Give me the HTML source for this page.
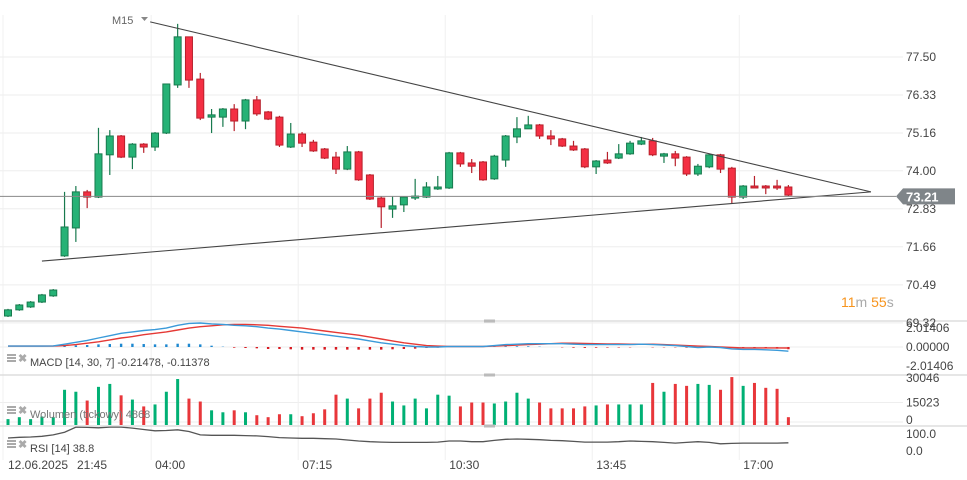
<!DOCTYPE html>
<html><head><meta charset="utf-8"><style>
html,body{margin:0;padding:0;background:#fff;}
svg{display:block;font-family:"Liberation Sans",sans-serif;}
</style></head><body>
<svg id="chart" width="967" height="480" viewBox="0 0 967 480" xmlns="http://www.w3.org/2000/svg">
<g id="grid"></g>
<g id="main"></g>
<g id="macd"></g>
<g id="vol"></g>
<g id="rsi"></g>
<g id="axes"></g>
</svg>
<script>
const opens=[69.53,69.72,69.81,69.96,70.15,71.38,72.24,73.35,73.19,74.49,75.07,74.42,74.82,74.73,75.16,76.64,78.12,76.82,75.65,75.65,75.90,75.53,76.18,75.81,75.65,74.73,75.13,74.88,74.67,74.42,74.05,74.58,73.87,73.16,72.82,72.95,73.16,73.19,73.44,73.47,74.55,74.24,74.27,73.75,74.33,75.04,75.29,75.41,75.07,74.98,74.76,74.67,74.12,74.33,74.39,74.52,74.82,74.92,74.45,74.52,74.42,73.90,74.12,74.49,74.08,73.19,73.53,73.53,73.53,73.50];
const highs=[69.75,69.90,69.99,70.21,70.36,73.35,73.53,73.41,75.32,75.25,75.10,74.85,74.85,75.19,76.67,78.52,78.12,77.01,75.90,75.93,76.05,76.21,76.30,75.84,75.69,75.47,75.19,74.95,74.70,74.58,74.76,74.61,73.90,73.22,73.22,73.22,73.75,73.65,73.84,74.58,74.58,74.36,74.30,74.49,75.10,75.65,75.69,75.44,75.25,75.01,74.92,74.70,74.33,74.58,74.82,74.92,75.04,75.01,74.55,74.61,74.45,74.21,74.52,74.52,74.12,73.56,73.84,73.56,73.72,73.56];
const lows=[69.50,69.69,69.78,69.93,70.12,71.35,71.81,72.85,73.16,73.87,74.39,74.05,74.55,74.61,75.13,76.55,76.55,75.56,75.16,75.35,75.22,75.28,75.69,75.56,74.73,74.70,74.73,74.58,74.36,73.90,74.02,73.69,73.10,72.24,72.55,72.73,73.10,73.16,73.41,73.44,74.12,73.93,73.69,73.72,74.12,74.85,75.29,74.98,74.79,74.73,74.61,74.08,73.90,74.21,74.36,74.49,74.79,74.45,74.24,74.14,73.84,73.84,74.08,73.93,72.98,73.13,73.47,73.28,73.41,73.22];
const closes=[69.72,69.87,69.96,70.18,70.33,72.27,73.35,73.19,74.52,75.07,74.42,74.82,74.73,75.16,76.67,78.12,76.79,75.62,75.72,75.90,75.53,76.18,75.75,75.59,74.79,75.13,74.85,74.61,74.39,74.05,74.58,73.72,73.13,72.89,72.92,73.19,73.22,73.50,73.50,74.55,74.21,74.14,73.72,74.45,75.07,75.29,75.41,75.07,74.98,74.76,74.64,74.12,74.30,74.24,74.52,74.85,74.92,74.49,74.52,74.39,73.90,74.14,74.49,74.05,73.19,73.53,73.47,73.47,73.47,73.25];
const volumes=[3920,5220,3920,5660,5220,23510,22210,16330,25470,27430,19810,16980,12410,13720,22210,30700,17630,15670,9800,8490,9800,8490,6530,5220,7180,7180,5880,7840,10450,20250,17630,11100,17630,21550,15670,13060,17630,11100,20250,19590,12410,15020,15020,14370,15670,21550,17630,15020,11100,11100,11100,12410,13060,13720,13720,13720,13720,28090,22210,27430,26130,27430,26780,23510,32000,26130,28090,24820,24160,5220];
const macdLine=[0.1,0.1,0.1,0.1,0.12,0.3,0.5,0.7,0.95,1.2,1.45,1.6,1.75,1.85,2.0,2.3,2.5,2.55,2.45,2.4,2.3,2.25,2.15,2.0,1.9,1.75,1.6,1.45,1.3,1.15,1.0,0.85,0.65,0.45,0.3,0.15,0.05,0.0,0.0,0.05,0.05,0.05,0.05,0.15,0.25,0.3,0.35,0.35,0.35,0.35,0.3,0.25,0.25,0.25,0.25,0.25,0.3,0.25,0.2,0.15,0.05,-0.05,0.0,-0.05,-0.2,-0.25,-0.25,-0.3,-0.35,-0.45];
const signalLine=[0.1,0.1,0.1,0.1,0.1,0.15,0.25,0.4,0.55,0.75,0.95,1.1,1.3,1.45,1.6,1.8,2.0,2.15,2.25,2.35,2.4,2.4,2.35,2.3,2.2,2.1,2.0,1.85,1.7,1.55,1.4,1.25,1.05,0.85,0.65,0.45,0.3,0.15,0.1,0.05,0.05,0.05,0.05,0.1,0.15,0.2,0.25,0.3,0.35,0.4,0.4,0.38,0.35,0.33,0.32,0.3,0.3,0.3,0.25,0.2,0.15,0.1,0.05,0.0,-0.05,-0.1,-0.1,-0.1,-0.1,-0.11];
const rsiValues=[53,55,56,58,62,70,85,84,83,85,85,82,78,74,75,77,72,62,61,61,61,60,59,57,54,53,52,52,51,50,47,44,42,41,40,40,40,40,41,44,44,42,42,46,49,50,49,48,46,45,43,41,41,41,42,44,43,42,40,38,40,42,40,36,37,38,38,38,38,38.8];
const priceTicks=["77.50","76.33","75.16","74.00","72.83","71.66","70.49","69.32"];
const priceTickVals=[77.5,76.33,75.16,74.0,72.83,71.66,70.49,69.32];
const macdTicks=["2.01406","0.00000","-2.01406"];
const macdTickVals=[2.01406,0,-2.01406];
const volTicks=["30046","15023","0"];
const volTickVals=[30046,15023,0];
const rsiTicks=["100.0","0.0"];
const timeLabels=["12.06.2025","21:45","04:00","07:15","10:30","13:45","17:00"];
const timeLabelIdx=[0,5.9,13.1,26.1,39.1,52.1,65.1];
const upperTrend=[[12.57,78.58],[76.3,73.35]];
const lowerTrend=[[3.0,71.22],[76.3,73.35]];
const lastPrice=73.21;

const NS="http://www.w3.org/2000/svg";
function mk(parent,tag,attrs,text){const e=document.createElementNS(NS,tag);for(const k in attrs)e.setAttribute(k,attrs[k]);if(text!==undefined)e.textContent=text;parent.appendChild(e);return e;}
const xAt=i=>8+i*11.31;
const yP=p=>57+(77.5-p)*32.5;
const yM=v=>347-v*9.43;
const yV=v=>425-v*(45/30046);
const yR=v=>456-v*0.34;
const G=document.getElementById('grid'),M=document.getElementById('main'),MD=document.getElementById('macd'),V=document.getElementById('vol'),R=document.getElementById('rsi'),A=document.getElementById('axes');

priceTickVals.forEach(v=>{const l=mk(G,'line',{x1:0,x2:903,y1:yP(v),y2:yP(v),stroke:'#eeeeee','stroke-width':1});

});
[yM(0),yV(15023),yR(100)].forEach(y=>{const l=mk(G,'line',{x1:0,x2:903,y1:y,y2:y,stroke:'#eeeeee'});

});
timeLabelIdx.slice(2).concat([0]).forEach(i=>{const x=xAt(i)-5;const l=mk(G,'line',{x1:x,x2:x,y1:15,y2:460,stroke:'#f0f0f0'});

});

for(let i=0;i<opens.length;i++){
 const up=closes[i]>=opens[i];const x=xAt(i);
 const g=mk(M,'g',{});
 
 
 const fill=up?'#26b276':'#f42f43',st=up?'#187a4e':'#b8202b';
 mk(g,'line',{x1:x,x2:x,y1:yP(highs[i]),y2:yP(lows[i]),stroke:st,'stroke-width':1.2});
 const t=Math.min(yP(opens[i]),yP(closes[i]));const h=Math.max(1.5,Math.abs(yP(opens[i])-yP(closes[i])));
 mk(g,'rect',{x:x-3.5,y:t,width:7,height:h,fill:fill,stroke:st,'stroke-width':1});
}
[upperTrend,lowerTrend].forEach((t,k)=>{const l=mk(M,'line',{x1:xAt(t[0][0]),y1:yP(t[0][1]),x2:xAt(t[1][0]),y2:yP(t[1][1]),stroke:'#444','stroke-width':1.1});

});
const pl=mk(M,'line',{x1:0,x2:896,y1:yP(lastPrice),y2:yP(lastPrice),stroke:'#888','stroke-width':1});


const pb=mk(M,'path',{d:`M896 ${yP(lastPrice)} L903 ${yP(lastPrice)-8} L955 ${yP(lastPrice)-8} L955 ${yP(lastPrice)+8} L903 ${yP(lastPrice)+8} Z`,fill:'#7f8589'});


const pt=mk(M,'text',{x:906,y:yP(lastPrice)+5,fill:'#fff','font-size':13,'font-weight':'bold'},lastPrice.toFixed(2));



for(let i=0;i<macdLine.length;i++){const d=macdLine[i]-signalLine[i];if(Math.abs(d)<0.03)continue;
 const y0=yM(0),y1=yM(d*0.7);const b=mk(MD,'rect',{x:xAt(i)-1.2,y:Math.min(y0,y1),width:2.4,height:Math.abs(y1-y0),fill:d>0?'#1e88d0':'#d71920'});
 
 }
const ptsOf=(arr,f)=>arr.map((v,i)=>xAt(i).toFixed(1)+','+f(v).toFixed(1)).join(' ');
const sl=mk(MD,'polyline',{points:ptsOf(signalLine,yM),fill:'none',stroke:'#e53935','stroke-width':1.4});


const ml=mk(MD,'polyline',{points:ptsOf(macdLine,yM),fill:'none',stroke:'#3a9ad9','stroke-width':1.4});



for(let i=0;i<volumes.length;i++){const up=closes[i]>=opens[i];const b=mk(V,'rect',{x:xAt(i)-1.5,y:yV(volumes[i]),width:3,height:yV(0)-yV(volumes[i]),fill:up?'#00b074':'#e8363a'});
 
 }
const rl=mk(R,'polyline',{points:ptsOf(rsiValues,yR),fill:'none',stroke:'#555','stroke-width':1.3});



[321,375,426].forEach(y=>{const s=mk(A,'line',{x1:0,x2:967,y1:y,y2:y,stroke:'#d8d8d8','stroke-width':1.2});


const h=mk(A,'rect',{x:484,y:y-1.5,width:11,height:3,fill:'#bbb'});

});

const lab=(x,y,t,name,extra)=>{const e=mk(A,'text',Object.assign({x:x,y:y,fill:'#444','font-size':12},extra||{}),t);
 
 return e;};
priceTicks.forEach((t,i)=>lab(906,yP(priceTickVals[i])+4,t,'price-tick-label'));
macdTicks.forEach((t,i)=>lab(906,yM(macdTickVals[i])+4,t,'macd-tick-label'));
volTicks.forEach((t,i)=>lab(906,yV(volTickVals[i])+(i===0?2:i===2?-1:4),t,'volume-tick-label'));
lab(906,438,rsiTicks[0],'rsi-tick-label');lab(906,455,rsiTicks[1],'rsi-tick-label');
timeLabels.forEach((t,i)=>lab(i===0?8:(i===1?77:xAt(timeLabelIdx[i])-1),469,t,'time-axis-label'));

const icon=(y,name)=>{const g=mk(A,'g',{});
 mk(g,'rect',{x:7,y:y-7,width:9,height:2,fill:'#aaa'});mk(g,'rect',{x:7,y:y-4,width:9,height:2,fill:'#aaa'});mk(g,'rect',{x:7,y:y-1,width:9,height:2,fill:'#aaa'});
 mk(g,'text',{x:18,y:y+1,fill:'#aaa','font-size':11,'font-weight':'bold'},'✖');};
icon(361,'macd-settings-icon');icon(413,'volume-settings-icon');icon(447,'rsi-settings-icon');
lab(30,366,'MACD [14, 30, 7] -0.21478,  -0.11378','macd-title',{'font-size':11});
lab(30,418,'Wolumen (tickowy)  4868','volume-title',{'font-size':11,fill:'#777'});
lab(30,452,'RSI [14]  38.8','rsi-title',{'font-size':11});

lab(112,24,'M15','timeframe-selector',{'font-size':11,fill:'#666'});
const tri=mk(A,'path',{d:'M141 17 L148 17 L144.5 21 Z',fill:'#888'});


const tm=mk(A,'text',{x:841,y:307,'font-size':14},'');


[['11','#f7941d'],['m ','#aaa'],['55','#f7941d'],['s','#aaa']].forEach(p=>mk(tm,'tspan',{fill:p[1]},p[0]));
</script>
</body></html>
